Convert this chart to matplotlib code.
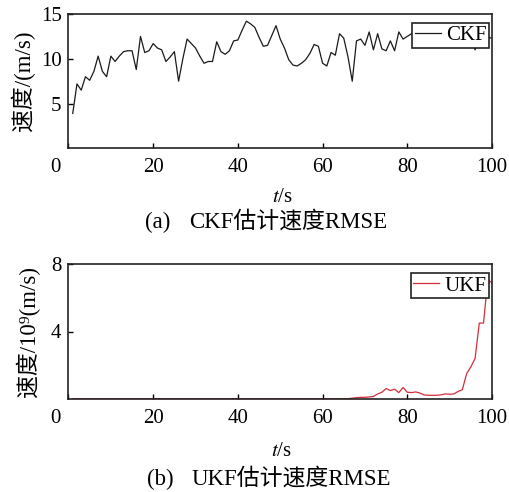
import matplotlib
matplotlib.use("Agg")
import matplotlib.pyplot as plt
import matplotlib.transforms as mtransforms
import numpy as np

plt.rcParams['font.family'] = ['Liberation Serif', 'Noto Sans CJK SC']
plt.rcParams['mathtext.fontset'] = 'stix'

# ---- data ----
t = list(range(1, 101))
ckf = [3.9, 7.2, 6.5, 8.0, 7.6, 8.6, 10.3, 8.6, 8.0, 10.3,
       9.7, 10.3, 10.8, 10.9, 10.9, 8.8, 12.5, 10.7, 10.9, 11.7,
       11.2, 11.0, 9.7, 10.2, 10.8, 7.5, 10.0, 12.2, 11.7, 11.2,
       10.3, 9.5, 9.7, 9.7, 11.9, 10.8, 10.5, 10.9, 12.0, 12.1,
       13.2, 14.2, 13.9, 13.5, 12.4, 11.4, 11.5, 12.6, 13.7, 12.2,
       11.2, 9.9, 9.3, 9.2, 9.5, 9.9, 10.6, 11.6, 11.4, 9.5,
       9.2, 10.7, 10.4, 12.8, 12.3, 10.2, 7.5, 12.0, 12.2, 11.5,
       13.0, 11.0, 12.8, 11.1, 10.9, 12.0, 10.9, 13.0, 12.2, 12.5,
       12.8, 13.2, 12.4, 13.5, 12.6, 12.9, 13.3, 12.2, 12.7, 13.6,
       12.5, 12.9, 13.1, 12.3, 12.6, 11.0, 12.2, 12.6, 12.4, 12.3]
ukf = [0.02] * 66 + [0.05, 0.08, 0.10, 0.10, 0.12, 0.15, 0.30, 0.40, 0.62, 0.50,
                     0.58, 0.38, 0.68, 0.40, 0.38, 0.42, 0.35, 0.24, 0.22, 0.22,
                     0.22, 0.25, 0.30, 0.28, 0.30, 0.45, 0.55, 1.50, 1.90, 2.40,
                     4.50, 4.50, 7.05, 6.90]
xticks = [0, 20, 40, 60, 80, 100]
yticks_top = [5, 10, 15]
yticks_bot = [4, 8]

W, H = 510, 492
fig = plt.figure(figsize=(W / 100, H / 100), dpi=100)

def px_axes(l, t_, r, b):
    return [l / W, 1 - b / H, (r - l) / W, (b - t_) / H]

ax1 = fig.add_axes(px_axes(68.5, 14, 492, 148.4))
ax2 = fig.add_axes(px_axes(68.5, 264, 492, 399))

fs = 15

def style(ax, yt, ylim):
    ax.set_xlim(0, 100)
    ax.set_ylim(*ylim)
    ax.set_xticks(xticks)
    ax.set_yticks(yt)
    ax.set_xticklabels([str(v) for v in xticks])
    ax.tick_params(direction='in', length=3.5, width=1.0, labelsize=fs,
                   top=False, right=False, pad=5)
    ax.tick_params(axis='x', pad=7)
    for s in ax.spines.values():
        s.set_linewidth(1.2)
        s.set_color('#222222')
    # shift "0" label to the corner
    lab = ax.get_xticklabels()[0]
    off = mtransforms.ScaledTranslation(-13 / 100, 0, fig.dpi_scale_trans)
    lab.set_transform(lab.get_transform() + off)

ax1.plot(t, ckf, color='#1a1a1a', lw=0.9, label='CKF')
style(ax1, yticks_top, (0, 15))
ax1.set_ylabel('速度/(m/s)', fontsize=16.5, labelpad=4)

ax2.plot(t, ukf, color='#d22e3a', lw=0.9, label='UKF')
style(ax2, yticks_bot, (0, 8))
ax2.set_ylabel('速度/10⁹(m/s)', fontsize=16.5, labelpad=8)

for ax in (ax1, ax2):
    leg = ax.legend(loc='upper right', bbox_to_anchor=(0.993, 0.93),
                    fontsize=fs, frameon=True, fancybox=False,
                    handlelength=1.25, handletextpad=0.25, borderpad=0.12,
                    borderaxespad=0.0)
    leg.get_frame().set_edgecolor('#222222')
    leg.get_frame().set_linewidth(1.2)
    leg.get_frame().set_alpha(1)

cfs = 16.5
fig.text(282 / W, 1 - 197 / H, '$t$/s', ha='center', va='center', fontsize=fs)
fig.text(145 / W, 1 - 222 / H, '(a)', ha='left', va='center', fontsize=cfs)
fig.text(189 / W, 1 - 222 / H, 'CKF估计速度RMSE', ha='left', va='center', fontsize=cfs)
fig.text(281 / W, 1 - 451 / H, '$t$/s', ha='center', va='center', fontsize=fs)
fig.text(147 / W, 1 - 479 / H, '(b)', ha='left', va='center', fontsize=cfs)
fig.text(192 / W, 1 - 479 / H, 'UKF估计速度RMSE', ha='left', va='center', fontsize=cfs)

fig.savefig('out.png', dpi=100)
